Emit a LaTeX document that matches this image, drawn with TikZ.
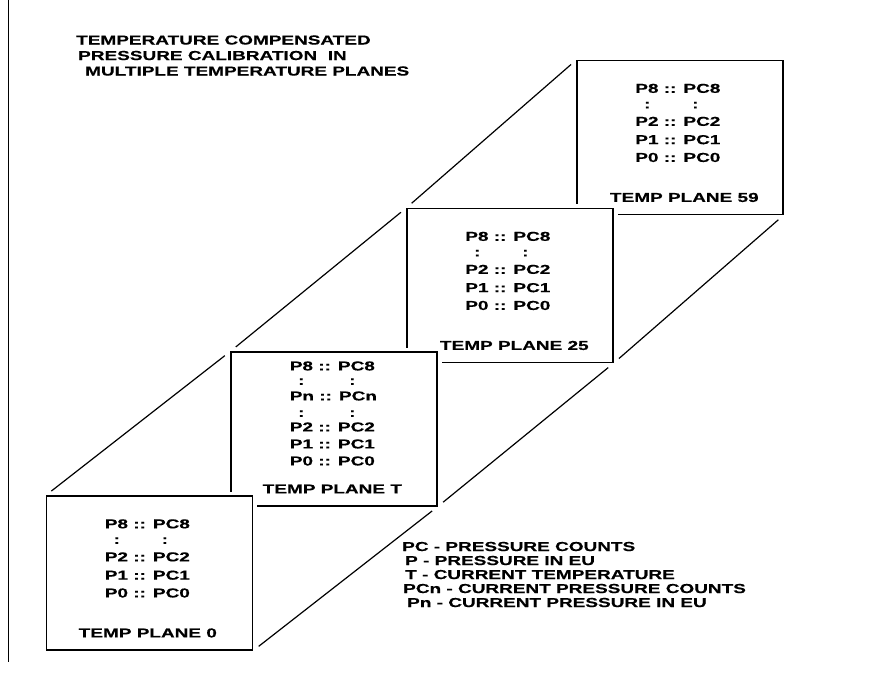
\documentclass[tikz,border=0pt]{standalone}
\usepackage{fontspec}
\setmainfont{Liberation Sans}[FakeStretch=1.46, FakeBold=0.4]
\usetikzlibrary{calc}

\tikzset{
    plane/.style={draw, fill=white, line width=1.3pt, inner sep=0pt,
        minimum width=206pt, minimum height=154pt,
        preaction={draw=white, line width=9pt}},
    txt/.style={inner sep=0pt, anchor=base, font=\fontsize{13}{15}\selectfont\bfseries},
    link/.style={line width=1.2pt, shorten >=7pt, shorten <=7pt}
}

\begin{document}
\begin{tikzpicture}[x=1pt, y=-1pt]
    \useasboundingbox (0,0) rectangle (871,673);

                % Margin rule
                \draw[line width=1pt] (8,0) -- (8,662);

                % Title
                \node[txt, anchor=base west] (title1) at (76,44.5) {TEMPERATURE COMPENSATED};
                \node[txt, anchor=base west] (title2) at (78,60) {PRESSURE CALIBRATION~ IN};
                \node[txt, anchor=base west] (title3) at (85,75.5) {MULTIPLE TEMPERATURE PLANES};

                % Temperature planes, back to front
                \node[plane] (b59) at (680,137.5) {};
                \node[plane] (b25) at (510,285.5) {};
                \node[plane] (bT) at (334,429) {};
                \node[plane] (b0) at (149.5,573) {};

                % Plane contents
                \foreach \b/\t/\dx in {b59/59/108, b25/25/108, b0/0/102} {
                    \node[txt] (\b-p8) at ($(\b.north west)+(101.5,33)$) {P8 :: PC8};
                    \node[txt] (\b-dots) at ($(\b.north west)+(95,48.5)$) {:\hspace{41.7pt}:};
                    \node[txt] (\b-p2) at ($(\b.north west)+(101.5,66)$) {P2 :: PC2};
                    \node[txt] (\b-p1) at ($(\b.north west)+(101.5,84.3)$) {P1 :: PC1};
                    \node[txt] (\b-p0) at ($(\b.north west)+(101.5,102.1)$) {P0 :: PC0};
                    \node[txt] (\b-name) at ($(\b.north west)+(\dx,142.1)$) {TEMP PLANE \t};
                }

                % Current plane
                \node[txt] (bT-p8) at ($(bT.north west)+(102,19.1)$) {P8 :: PC8};
                \node[txt] (bT-dots1) at ($(bT.north west)+(96.5,33.5)$) {:\hspace{44.7pt}:};
                \node[txt] (bT-pn) at ($(bT.north west)+(103,49.1)$) {Pn :: PCn};
                \node[txt] (bT-dots2) at ($(bT.north west)+(96.5,65.5)$) {:\hspace{44.7pt}:};
                \node[txt] (bT-p2) at ($(bT.north west)+(102,80.1)$) {P2 :: PC2};
                \node[txt] (bT-p1) at ($(bT.north west)+(102,97.1)$) {P1 :: PC1};
                \node[txt] (bT-p0) at ($(bT.north west)+(102,114.1)$) {P0 :: PC0};
                \node[txt] (bT-name) at ($(bT.north west)+(102,142.1)$) {TEMP PLANE T};

                % Connecting edges
                \draw[link] (b0.north west) -- (bT.north west);
                \draw[link] (bT.north west) -- (b25.north west);
                \draw[link] (b25.north west) -- (b59.north west);
                \draw[link] (b0.south east) -- (bT.south east);
                \draw[link] (bT.south east) -- (b25.south east);
                \draw[link] (b25.south east) -- (b59.south east);

                % Legend
                \node[txt, anchor=base west] (leg1) at (402,551) {PC - PRESSURE COUNTS};
                \node[txt, anchor=base west] (leg2) at (405,565) {P - PRESSURE IN EU};
                \node[txt, anchor=base west] (leg3) at (405,579) {T - CURRENT TEMPERATURE};
                \node[txt, anchor=base west] (leg4) at (403,593) {PCn - CURRENT PRESSURE COUNTS};
                \node[txt, anchor=base west] (leg5) at (407,607) {Pn - CURRENT PRESSURE IN EU};

            \end{tikzpicture}
\end{document}
